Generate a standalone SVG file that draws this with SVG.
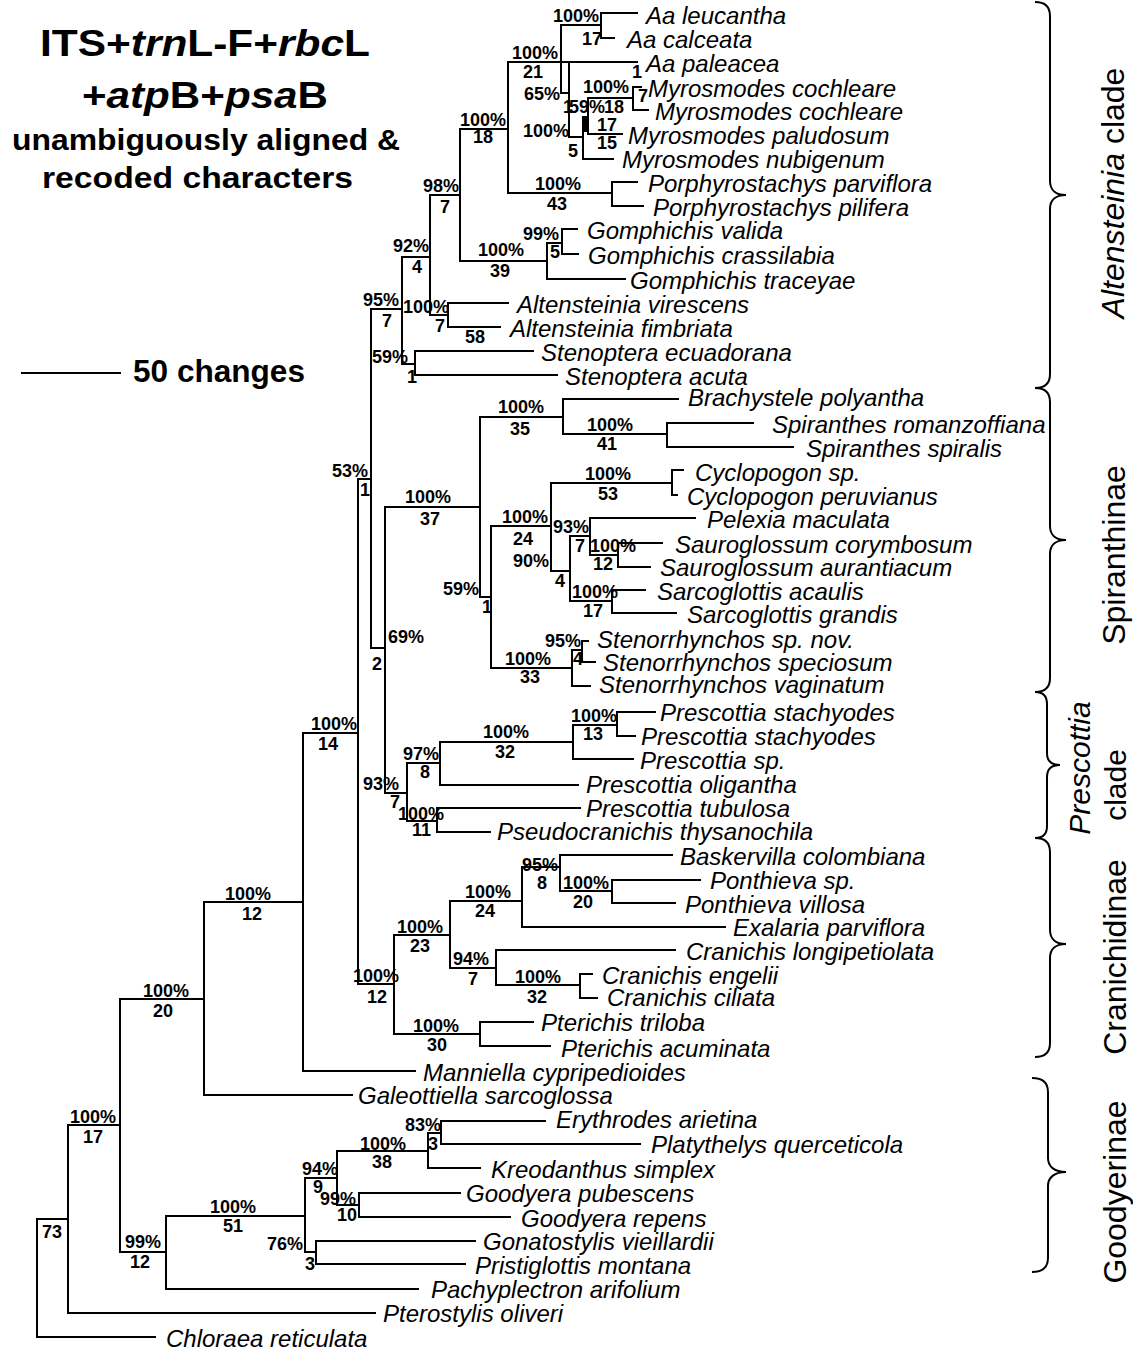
<svg xmlns="http://www.w3.org/2000/svg" width="1133" height="1351" viewBox="0 0 1133 1351">
<style>
.br{fill:none;stroke:#000;stroke-width:2;stroke-linecap:square}
.bc{fill:none;stroke:#000;stroke-width:2}
.tx{font-family:"Liberation Sans",Arial,sans-serif;font-style:italic;font-size:24px;fill:#000}
.lb{font-family:"Liberation Sans",Arial,sans-serif;font-weight:bold;font-size:18px;fill:#000}
.tt{font-family:"Liberation Sans",Arial,sans-serif;font-weight:bold;fill:#000}
.cl{font-family:"Liberation Sans",Arial,sans-serif;font-size:32px;fill:#000}
</style>
<rect width="1133" height="1351" fill="#fff"/>
<g id="title">
<text class="tt" x="40" y="56" font-size="37" textLength="330" lengthAdjust="spacingAndGlyphs">ITS+<tspan font-style="italic">trn</tspan>L-F+<tspan font-style="italic">rbc</tspan>L</text>
<text class="tt" x="82" y="108" font-size="36" textLength="246" lengthAdjust="spacingAndGlyphs">+<tspan font-style="italic">atp</tspan>B+<tspan font-style="italic">psa</tspan>B</text>
<text class="tt" x="12" y="150" font-size="29" textLength="388" lengthAdjust="spacingAndGlyphs">unambiguously aligned &amp;</text>
<text class="tt" x="42" y="188" font-size="29" textLength="311" lengthAdjust="spacingAndGlyphs">recoded characters</text>
</g>
<g id="scale-bar">
<path class="br" d="M22 373H120"/>
<text class="tt" x="133" y="382" font-size="31" textLength="172" lengthAdjust="spacingAndGlyphs">50 changes</text>
</g>
<g id="connectors">
<path class="br" d="M601 13V38M601 13H637M601 38H614M561 25H601M561 25V93M508 62H637M561 93H569M569 62V137M569 137H583M583 117V159M583 159H613M588 98V134M588 98H633M588 134H622M633 87V110M633 87H641M633 110H648M460 129H508M508 62V193M508 193H612M612 182V206M612 182H637M612 206H643M460 129V261M430 195H460M460 261H547M547 243V279M547 243H562M562 229V254M562 229H577M562 254H578M547 279H625M430 195V315M430 315H448M448 303V327M448 303H508M448 327H500M402 257H430M402 257V364M402 364H415M415 351V375M415 351H533M415 375H557M371 309H402M371 309V648M358 479H371M371 648H385M385 507V793"/>
<rect x="582" y="116" width="5" height="16" fill="#000"/>
<path class="br" d="M385 507H480M480 417V597M480 417H563M563 399V434M563 399H678M563 434H667M667 423V447M667 423H753M667 447H793M480 597H491M491 526V668M491 526H551M551 483V571M551 483H672M672 470V495M672 470H683M672 495H677M551 571H570M570 536V601M570 536H590M590 518V555M590 518H695M590 555H618M618 543V567M618 543H662M618 567H650M570 601H612M612 590V613M612 590H645M612 613H676M491 668H572M572 650V686M572 650H582M582 641V662M582 641H588M582 662H595M572 686H590"/>
<path class="br" d="M385 793H407M407 763V821M407 763H440M440 742V785M440 742H573M573 725V759M573 725H617M617 712V736M617 712H655M617 736H635M573 759H633M440 785H578M407 821H437M437 808V832M437 808H580M437 832H490"/>
<path class="br" d="M358 479V984M303 733H358M303 733V1071M303 1071H415M204 902H303M204 902V1095M204 1095H352"/>
<path class="br" d="M358 984H394M394 935V1034M394 935H450M450 901V968M450 901H522M522 867V927M522 867H560M560 855V891M560 855H672M560 891H612M612 880V903M612 880H700M612 903H675M522 927H725M450 968H496M496 950V985M496 950H675M496 985H580M580 974V998M580 974H592M580 998H597M394 1034H480M480 1022V1046M480 1022H533M480 1046H550"/>
<path class="br" d="M37 1219V1337M37 1219H68M37 1337H155M68 1125V1313M68 1313H375M68 1125H120M120 999V1252M120 999H204M120 1252H166M166 1216V1289M166 1289H418M166 1216H305M305 1178V1252M305 1178H337M337 1151V1205M337 1151H428M428 1133V1168M428 1133H441M441 1121V1144M441 1121H545M441 1144H640M428 1168H480M337 1205H359M359 1193V1217M359 1193H460M359 1217H510M305 1252H316M316 1241V1264M316 1241H475M316 1264H465"/>
</g>
<g id="support-labels" class="lb">
<text x="553" y="22">100%</text><text x="582" y="45">17</text>
<text x="512" y="59">100%</text><text x="523" y="78">21</text><text x="524" y="100">65%</text>
<text x="460" y="126">100%</text><text x="473" y="143">18</text>
<text x="523" y="137">100%</text><text x="568" y="157">5</text>
<text x="563" y="113">1</text><text x="569" y="113">59%</text><text x="604" y="113">18</text>
<text x="583" y="93">100%</text><text x="638" y="102">7</text><text x="632" y="78">1</text>
<text x="597" y="131">17</text><text x="597" y="149">15</text>
<text x="535" y="190">100%</text><text x="547" y="210">43</text>
<text x="423" y="192">98%</text><text x="440" y="213">7</text>
<text x="393" y="252">92%</text><text x="412" y="273">4</text>
<text x="523" y="240">99%</text><text x="550" y="258">5</text>
<text x="478" y="256">100%</text><text x="490" y="277">39</text>
<text x="363" y="306">95%</text><text x="382" y="327">7</text>
<text x="403" y="313">100%</text><text x="435" y="332">7</text>
<text x="465" y="343">58</text>
<text x="372" y="363">59%</text><text x="407" y="383">1</text>
<text x="332" y="477">53%</text><text x="360" y="496">1</text>
<text x="372" y="670">2</text><text x="388" y="643">69%</text>
<text x="405" y="503">100%</text><text x="420" y="525">37</text>
<text x="498" y="413">100%</text><text x="510" y="435">35</text>
<text x="587" y="431">100%</text><text x="597" y="450">41</text>
<text x="585" y="480">100%</text><text x="598" y="500">53</text>
<text x="502" y="523">100%</text><text x="513" y="545">24</text>
<text x="553" y="533">93%</text><text x="575" y="552">7</text>
<text x="590" y="552">100%</text><text x="593" y="570">12</text>
<text x="513" y="567">90%</text><text x="555" y="587">4</text>
<text x="572" y="598">100%</text><text x="583" y="617">17</text>
<text x="443" y="595">59%</text><text x="482" y="613">1</text>
<text x="545" y="647">95%</text><text x="573" y="665">4</text>
<text x="505" y="665">100%</text><text x="520" y="683">33</text>
<text x="571" y="722">100%</text><text x="583" y="740">13</text>
<text x="483" y="738">100%</text><text x="495" y="758">32</text>
<text x="403" y="760">97%</text><text x="420" y="778">8</text>
<text x="363" y="790">93%</text><text x="390" y="808">7</text>
<text x="398" y="820">100%</text><text x="412" y="836">11</text>
<text x="311" y="730">100%</text><text x="318" y="750">14</text>
<text x="522" y="871">95%</text><text x="537" y="889">8</text>
<text x="563" y="889">100%</text><text x="573" y="908">20</text>
<text x="465" y="898">100%</text><text x="475" y="917">24</text>
<text x="397" y="933">100%</text><text x="410" y="952">23</text>
<text x="453" y="965">94%</text><text x="468" y="985">7</text>
<text x="515" y="983">100%</text><text x="527" y="1003">32</text>
<text x="353" y="982">100%</text><text x="367" y="1003">12</text>
<text x="413" y="1032">100%</text><text x="427" y="1051">30</text>
<text x="225" y="900">100%</text><text x="242" y="920">12</text>
<text x="143" y="997">100%</text><text x="153" y="1017">20</text>
<text x="70" y="1123">100%</text><text x="83" y="1143">17</text>
<text x="42" y="1238">73</text>
<text x="125" y="1248">99%</text><text x="130" y="1268">12</text>
<text x="210" y="1213">100%</text><text x="223" y="1232">51</text>
<text x="302" y="1175">94%</text><text x="313" y="1193">9</text>
<text x="320" y="1205">99%</text><text x="337" y="1221">10</text>
<text x="267" y="1250">76%</text><text x="305" y="1270">3</text>
<text x="405" y="1131">83%</text><text x="428" y="1150">3</text>
<text x="360" y="1150">100%</text><text x="372" y="1168">38</text>
</g>
<g id="taxa" class="tx">
<g id="aa-leucantha"><text x="646" y="24">Aa leucantha</text></g>
<g id="aa-calceata"><text x="627" y="48">Aa calceata</text></g>
<g id="aa-paleacea"><text x="646" y="72">Aa paleacea</text></g>
<g id="myrosmodes-cochleare-1"><text x="648" y="97">Myrosmodes cochleare</text></g>
<g id="myrosmodes-cochleare-2"><text x="655" y="120">Myrosmodes cochleare</text></g>
<g id="myrosmodes-paludosum"><text x="628" y="144">Myrosmodes paludosum</text></g>
<g id="myrosmodes-nubigenum"><text x="622" y="168">Myrosmodes nubigenum</text></g>
<g id="porphyrostachys-parviflora"><text x="648" y="192">Porphyrostachys parviflora</text></g>
<g id="porphyrostachys-pilifera"><text x="653" y="216">Porphyrostachys pilifera</text></g>
<g id="gomphichis-valida"><text x="587" y="239">Gomphichis valida</text></g>
<g id="gomphichis-crassilabia"><text x="588" y="264">Gomphichis crassilabia</text></g>
<g id="gomphichis-traceyae"><text x="630" y="289">Gomphichis traceyae</text></g>
<g id="altensteinia-virescens"><text x="517" y="313">Altensteinia virescens</text></g>
<g id="altensteinia-fimbriata"><text x="510" y="337">Altensteinia fimbriata</text></g>
<g id="stenoptera-ecuadorana"><text x="541" y="361">Stenoptera ecuadorana</text></g>
<g id="stenoptera-acuta"><text x="565" y="385">Stenoptera acuta</text></g>
<g id="brachystele-polyantha"><text x="688" y="406">Brachystele polyantha</text></g>
<g id="spiranthes-romanzoffiana"><text x="772" y="433">Spiranthes romanzoffiana</text></g>
<g id="spiranthes-spiralis"><text x="806" y="457">Spiranthes spiralis</text></g>
<g id="cyclopogon-sp"><text x="695" y="481">Cyclopogon sp.</text></g>
<g id="cyclopogon-peruvianus"><text x="687" y="505">Cyclopogon peruvianus</text></g>
<g id="pelexia-maculata"><text x="707" y="528">Pelexia maculata</text></g>
<g id="sauroglossum-corymbosum"><text x="675" y="553">Sauroglossum corymbosum</text></g>
<g id="sauroglossum-aurantiacum"><text x="660" y="576">Sauroglossum aurantiacum</text></g>
<g id="sarcoglottis-acaulis"><text x="657" y="600">Sarcoglottis acaulis</text></g>
<g id="sarcoglottis-grandis"><text x="687" y="623">Sarcoglottis grandis</text></g>
<g id="stenorrhynchos-sp-nov"><text x="597" y="648">Stenorrhynchos sp. nov.</text></g>
<g id="stenorrhynchos-speciosum"><text x="603" y="671">Stenorrhynchos speciosum</text></g>
<g id="stenorrhynchos-vaginatum"><text x="599" y="693">Stenorrhynchos vaginatum</text></g>
<g id="prescottia-stachyodes-1"><text x="660" y="721">Prescottia stachyodes</text></g>
<g id="prescottia-stachyodes-2"><text x="641" y="745">Prescottia stachyodes</text></g>
<g id="prescottia-sp"><text x="640" y="769">Prescottia sp.</text></g>
<g id="prescottia-oligantha"><text x="586" y="793">Prescottia oligantha</text></g>
<g id="prescottia-tubulosa"><text x="586" y="817">Prescottia tubulosa</text></g>
<g id="pseudocranichis-thysanochila"><text x="497" y="840">Pseudocranichis thysanochila</text></g>
<g id="baskervilla-colombiana"><text x="680" y="865">Baskervilla colombiana</text></g>
<g id="ponthieva-sp"><text x="710" y="889">Ponthieva sp.</text></g>
<g id="ponthieva-villosa"><text x="685" y="913">Ponthieva villosa</text></g>
<g id="exalaria-parviflora"><text x="733" y="936">Exalaria parviflora</text></g>
<g id="cranichis-longipetiolata"><text x="686" y="960">Cranichis longipetiolata</text></g>
<g id="cranichis-engelii"><text x="602" y="984">Cranichis engelii</text></g>
<g id="cranichis-ciliata"><text x="607" y="1006">Cranichis ciliata</text></g>
<g id="pterichis-triloba"><text x="541" y="1031">Pterichis triloba</text></g>
<g id="pterichis-acuminata"><text x="561" y="1057">Pterichis acuminata</text></g>
<g id="manniella-cypripedioides"><text x="423" y="1081">Manniella cypripedioides</text></g>
<g id="galeottiella-sarcoglossa"><text x="358" y="1104">Galeottiella sarcoglossa</text></g>
<g id="erythrodes-arietina"><text x="556" y="1128">Erythrodes arietina</text></g>
<g id="platythelys-querceticola"><text x="651" y="1153">Platythelys querceticola</text></g>
<g id="kreodanthus-simplex"><text x="491" y="1178">Kreodanthus simplex</text></g>
<g id="goodyera-pubescens"><text x="466" y="1202">Goodyera pubescens</text></g>
<g id="goodyera-repens"><text x="521" y="1227">Goodyera repens</text></g>
<g id="gonatostylis-vieillardii"><text x="483" y="1250">Gonatostylis vieillardii</text></g>
<g id="pristiglottis-montana"><text x="475" y="1274">Pristiglottis montana</text></g>
<g id="pachyplectron-arifolium"><text x="431" y="1298">Pachyplectron arifolium</text></g>
<g id="pterostylis-oliveri"><text x="383" y="1322">Pterostylis oliveri</text></g>
<g id="chloraea-reticulata"><text x="166" y="1347">Chloraea reticulata</text></g>
</g>
<g id="clade-braces">
<path class="bc" d="M1035 2C1045 2 1050 6 1050 16L1050 181C1050 190 1056 195 1066 195C1056 195 1050 200 1050 209L1050 374C1050 384 1045 388 1035 388"/>
<path class="bc" d="M1035 388C1045 388 1050 392 1050 402L1050 526C1050 535 1056 540 1066 540C1056 540 1050 545 1050 554L1050 678C1050 688 1045 692 1035 692"/>
<path class="bc" d="M1035 692C1043 692 1047 696 1047 704L1047 753C1047 761 1052 765 1060 765C1052 765 1047 769 1047 777L1047 826C1047 834 1043 838 1035 838"/>
<path class="bc" d="M1035 838C1045 838 1050 842 1050 852L1050 930C1050 939 1056 944 1066 944C1056 944 1050 949 1050 958L1050 1043C1050 1053 1045 1057 1035 1057"/>
<path class="bc" d="M1032 1078C1042 1078 1048 1082 1048 1092L1048 1158C1048 1167 1055 1172 1066 1172C1055 1172 1048 1177 1048 1186L1048 1258C1048 1268 1042 1272 1032 1272"/>
</g>
<g id="clade-labels" class="cl">
<text transform="translate(1124 193) rotate(-90)" text-anchor="middle"><tspan font-style="italic">Altensteinia</tspan> clade</text>
<text transform="translate(1125 555) rotate(-90)" text-anchor="middle">Spiranthinae</text>
<text transform="translate(1090 768) rotate(-90)" text-anchor="middle" font-style="italic" font-size="30">Prescottia</text>
<text transform="translate(1126 785) rotate(-90)" text-anchor="middle" font-size="30">clade</text>
<text transform="translate(1126 957) rotate(-90)" text-anchor="middle">Cranichidinae</text>
<text transform="translate(1126 1192) rotate(-90)" text-anchor="middle">Goodyerinae</text>
</g>
</svg>
